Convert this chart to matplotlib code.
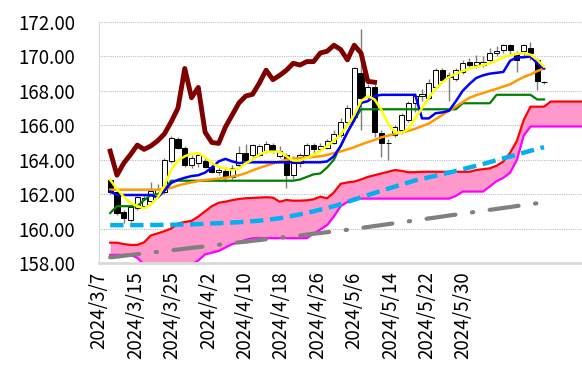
import numpy as np
import matplotlib
matplotlib.use("Agg")
import matplotlib.pyplot as plt

plt.rcParams['font.family'] = ['Noto Sans CJK JP', 'DejaVu Sans']

# tick labels (one every 6 business days)
dates = ["2024/3/7", "2024/3/15", "2024/3/25", "2024/4/2", "2024/4/10", "2024/4/18",
         "2024/4/26", "2024/5/6", "2024/5/14", "2024/5/22", "2024/5/30"]

# candles
opens = [162.83, 162.13, 160.97, 160.5, 161.2, 161.3, 161.6, 162.0, 162.1, 163.93,
         165.2, 164.7, 163.7, 163.8, 163.9, 163.6, 163.3, 163.35, 163.0, 163.7,
         164.4, 164.28, 164.3, 164.5, 164.86, 164.2, 164.3, 163.1, 163.8, 164.3,
         164.85, 164.6, 164.7, 165.0, 165.45, 166.2, 166.5, 169.05, 167.7, 168.25,
         165.56, 165.0, 165.44, 165.7, 166.3, 167.3, 167.7, 167.6, 168.2, 169.2,
         168.8, 168.7, 169.1, 169.7, 169.5, 169.5, 169.8, 170.2, 170.4, 170.65,
         170.2, 170.3, 170.5, 169.8, 168.5]
highs = [162.95, 162.2, 161.1, 161.4, 161.9, 162.0, 162.7, 162.6, 164.1, 165.35,
         165.3, 164.8, 164.3, 164.4, 164.1, 163.8, 163.6, 163.5, 163.7, 164.8,
         164.9, 164.9, 164.9, 165.1, 165.0, 164.8, 164.4, 164.2, 164.4, 165.0,
         165.0, 165.0, 165.2, 165.7, 166.4, 167.2, 169.4, 171.6, 168.4, 168.4,
         165.7, 165.2, 166.0, 166.7, 167.4, 167.9, 168.1, 168.7, 169.3, 169.3,
         169.1, 169.3, 169.8, 169.9, 170.1, 170.0, 170.5, 170.6, 170.7, 170.75,
         170.3, 170.7, 170.85, 169.9, 168.6]
lows = [162.0, 160.8, 160.33, 160.4, 161.1, 161.2, 161.5, 161.9, 162.0, 163.8,
        164.6, 163.6, 163.5, 163.6, 163.5, 163.2, 163.1, 162.7, 162.9, 163.6,
        163.9, 164.1, 164.2, 164.4, 164.4, 164.1, 162.36, 162.9, 163.6, 164.2,
        164.4, 164.5, 164.6, 164.9, 165.3, 166.0, 166.3, 165.7, 167.4, 165.3,
        164.16, 164.0, 165.3, 165.5, 166.2, 166.8, 167.4, 167.5, 168.1, 168.5,
        167.4, 168.6, 169.0, 169.3, 169.3, 169.4, 169.6, 170.0, 170.2, 170.1,
        169.1, 170.0, 169.8, 168.06, 168.4]
closes = [162.13, 160.9, 160.62, 161.26, 161.84, 161.8, 162.2, 162.3, 164.0, 165.27,
          164.7, 163.7, 164.1, 164.3, 163.6, 163.3, 163.4, 163.0, 163.5, 164.4,
          164.0, 164.86, 164.8, 164.9, 164.57, 164.5, 163.1, 163.8, 164.3, 164.85,
          164.6, 164.8, 165.1, 165.5, 166.2, 167.0, 169.3, 167.6, 168.2, 165.6,
          165.0, 164.95, 165.9, 166.6, 167.3, 167.7, 167.8, 168.45, 169.2, 168.65,
          168.9, 169.2, 169.6, 169.5, 169.7, 169.7, 170.2, 170.3, 170.65, 170.4,
          169.8, 170.65, 170.2, 168.55, 168.5]

# indicator lines
tenkan = [162.83, 162.3, 161.85, 161.5, 161.3, 161.18, 161.4, 161.8, 162.5, 163.4,
          163.95, 164.2, 164.35, 164.38, 164.15, 163.8, 163.6, 163.5, 163.4, 163.5,
          163.8, 164.0, 164.3, 164.47, 164.47, 164.47, 164.2, 163.95, 163.95, 164.1,
          164.3, 164.5, 164.8, 165.1, 165.45, 166.0, 166.6, 167.4, 167.7, 167.5,
          166.9, 166.1, 165.6, 165.55, 165.8, 166.4, 167.0, 167.6, 168.1, 168.5,
          168.8, 169.0, 169.15, 169.3, 169.4, 169.5, 169.6, 169.75, 169.95, 170.05,
          170.15, 170.2, 170.1, 169.8, 169.4]
kijun = [162.15, 161.95, 161.95, 161.95, 161.95, 161.95, 161.95, 161.8, 162.2, 162.65,
         162.83, 162.95, 163.05, 163.1, 163.25, 163.55, 163.9, 164.05, 163.9, 163.8,
         163.85, 163.85, 163.85, 163.85, 163.85, 163.85, 163.85, 163.85, 163.85, 163.85,
         163.85, 163.85, 163.9, 164.2, 164.8, 165.6, 166.3, 167.3, 167.4, 167.7,
         167.77, 167.77, 167.77, 167.77, 167.77, 167.77, 166.4, 166.4, 166.7, 166.75,
         166.85, 167.4, 168.0, 168.4, 168.75, 168.9, 169.0, 169.05, 169.1, 169.75,
         169.95, 169.95, 170.0, 169.6, 169.3]
ma_orange = [162.26, 162.26, 162.26, 162.26, 162.26, 162.26, 162.26, 162.26, 162.3, 162.37,
             162.5, 162.6, 162.68, 162.76, 162.82, 162.86, 162.9, 162.95, 163.02, 163.1,
             163.22, 163.38, 163.52, 163.65, 163.78, 163.9, 164.0, 164.05, 164.1, 164.13,
             164.16, 164.2, 164.28, 164.38, 164.48, 164.6, 164.72, 164.88, 165.02, 165.15,
             165.3, 165.4, 165.5, 165.58, 165.68, 165.8, 165.95, 166.1, 166.35, 166.6,
             166.85, 167.1, 167.35, 167.6, 167.75, 167.87, 168.0, 168.12, 168.25, 168.38,
             168.6, 168.8, 168.95, 169.15, 169.3]
ma_green = [160.9, 161.3, 161.3, 161.3, 161.3, 161.65, 161.95, 162.0, 162.25, 162.78,
            162.78, 162.78, 162.78, 162.78, 162.78, 162.78, 162.78, 162.78, 162.78, 162.78,
            162.78, 162.78, 162.78, 162.78, 162.78, 162.78, 162.78, 162.78, 162.85, 163.0,
            163.15, 163.2, 163.55, 164.0, 164.8, 165.6, 166.3, 166.93, 166.93, 166.93,
            166.93, 166.93, 166.93, 166.93, 166.93, 166.93, 166.93, 166.93, 166.93, 166.93,
            166.93, 166.93, 167.28, 167.28, 167.28, 167.28, 167.28, 167.77, 167.77, 167.77,
            167.77, 167.77, 167.77, 167.5, 167.5]
ma_cyan = [160.2, 160.2, 160.2, 160.2, 160.2, 160.2, 160.21, 160.21, 160.22, 160.22,
           160.23, 160.24, 160.25, 160.26, 160.28, 160.3, 160.31, 160.33, 160.35, 160.37,
           160.4, 160.43, 160.46, 160.5, 160.55, 160.6, 160.67, 160.75, 160.83, 160.91,
           161.0, 161.1, 161.2, 161.3, 161.42, 161.55, 161.68, 161.81, 161.94, 162.07,
           162.2, 162.32, 162.44, 162.56, 162.68, 162.8, 162.89, 162.98, 163.07, 163.16,
           163.25, 163.35, 163.45, 163.55, 163.65, 163.75, 163.86, 163.97, 164.08, 164.19,
           164.3, 164.41, 164.52, 164.63, 164.73]
ma_gray = [158.33, 158.37, 158.42, 158.47, 158.51, 158.56, 158.6, 158.65, 158.69, 158.74,
           158.78, 158.83, 158.88, 158.92, 158.97, 159.01, 159.06, 159.1, 159.15, 159.2,
           159.24, 159.29, 159.33, 159.38, 159.42, 159.47, 159.51, 159.56, 159.6, 159.65,
           159.7, 159.74, 159.79, 159.83, 159.88, 159.93, 159.98, 160.04, 160.09, 160.15,
           160.2, 160.26, 160.31, 160.37, 160.42, 160.48, 160.53, 160.59, 160.64, 160.7,
           160.76, 160.81, 160.87, 160.92, 160.98, 161.03, 161.09, 161.14, 161.2, 161.25,
           161.31, 161.36, 161.42, 161.47, 161.53]
span_a = [159.18, 159.18, 159.1, 159.05, 159.05, 159.2, 159.6, 159.72, 159.85, 160.0,
          160.3, 160.38, 160.45, 160.7, 161.0, 161.3, 161.5, 161.56, 161.65, 161.72,
          161.76, 161.78, 161.8, 161.82, 161.8, 161.56, 161.66, 161.62, 161.62, 161.64,
          161.7, 161.85, 161.76, 162.1, 162.6, 162.68, 162.73, 162.85, 163.0, 163.1,
          163.2, 163.3, 163.4, 163.35, 163.27, 163.28, 163.3, 163.3, 163.3, 163.3,
          163.3, 163.3, 163.3, 163.3, 163.4, 163.45, 163.5, 163.65, 163.9, 164.4,
          165.1, 166.3, 167.08, 167.08, 167.08, 167.38, 167.38, 167.38, 167.38, 167.38,
          167.38]
span_b = [158.47, 158.47, 158.47, 158.47, 158.3, 157.9, 157.8, 157.7, 157.7, 157.7,
          157.7, 157.7, 157.9, 158.15, 158.5, 158.6, 158.7, 158.9, 159.1, 159.2,
          159.35, 159.44, 159.44, 159.44, 159.44, 159.44, 159.44, 159.44, 159.44, 159.44,
          159.7, 159.95, 160.2, 160.7, 161.3, 161.55, 161.76, 161.74, 161.74, 161.74,
          161.74, 161.74, 161.74, 161.74, 161.74, 161.74, 161.74, 161.74, 161.74, 161.74,
          161.74, 161.9, 162.15, 162.15, 162.15, 162.15, 162.45, 162.75, 162.95, 163.25,
          164.0, 165.4, 165.93, 165.93, 165.93, 165.93, 165.93, 165.93, 165.93, 165.93,
          165.93]
lag = 25

x = np.arange(len(closes))
xs = np.arange(len(span_a))
o = np.array(opens)
c = np.array(closes)

fig = plt.figure(figsize=(5.82, 3.82), dpi=100)
ax = fig.add_axes([99 / 582, 1 - 263 / 382, 483 / 582, 241 / 382])

# cloud
ax.fill_between(xs, span_a, span_b, color='#FF99CC', lw=0, zorder=1)
ax.plot(xs, span_a, color='#FF0000', lw=1.6, zorder=2)
ax.plot(xs, span_b, color='#FF00FF', lw=1.6, zorder=2)

ax.plot(x, ma_gray, color='#808080', lw=3, dash_capstyle='round',
        linestyle=(0, (7, 4, 0.3, 4)), zorder=3)
ax.plot(x, ma_cyan, color='#00B0F0', lw=3.2, linestyle=(0, (3, 1.5)), zorder=3)

# candles
ax.vlines(x, lows, highs, color='#7f7f7f', lw=1, zorder=4)
up = c >= o
ax.bar(x[up], (c - o)[up], bottom=o[up], width=0.75, color='white',
       edgecolor='black', lw=0.7, zorder=5)
ax.bar(x[~up], (o - c)[~up], bottom=c[~up], width=0.75, color='black',
       edgecolor='black', lw=0.7, zorder=5)

ax.plot(x, ma_green, color='#008000', lw=1.6, zorder=6)
ax.plot(x, ma_orange, color='#FF9900', lw=1.8, zorder=6)
ax.plot(x, kijun, color='#0000FF', lw=1.8, zorder=7)
ax.plot(x, tenkan, color='#FFFF00', lw=1.8, zorder=8)
ax.plot(x[:len(closes) - lag], closes[lag:], color='#800000', lw=3.5, zorder=9)

ax.set_xlim(-0.39, 69.6)
ax.set_ylim(158, 172)
ax.set_yticks(np.arange(158, 173, 2))
ax.set_yticklabels([f"{v:.2f}" for v in np.arange(158, 173, 2)], fontsize=13.5)

tick_pos = -1.65 + 5.372 * np.arange(len(dates))
ax.set_xticks(tick_pos)
ax.set_xticklabels(dates, rotation=90, fontsize=13.5)
ax.tick_params(axis='y', length=0, pad=17)
ax.tick_params(axis='x', length=0, pad=6)

ax.grid(axis='y', color='#bfbfbf', linestyle=(0, (1, 1)), lw=0.8)
ax.set_axisbelow(True)
for s in ['top', 'right']:
    ax.spines[s].set_visible(False)
ax.spines['left'].set_color('#d9d9d9')
ax.spines['bottom'].set_color('#d9d9d9')
ax.spines['bottom'].set_linewidth(2)

fig.savefig("out.png", dpi=100)
